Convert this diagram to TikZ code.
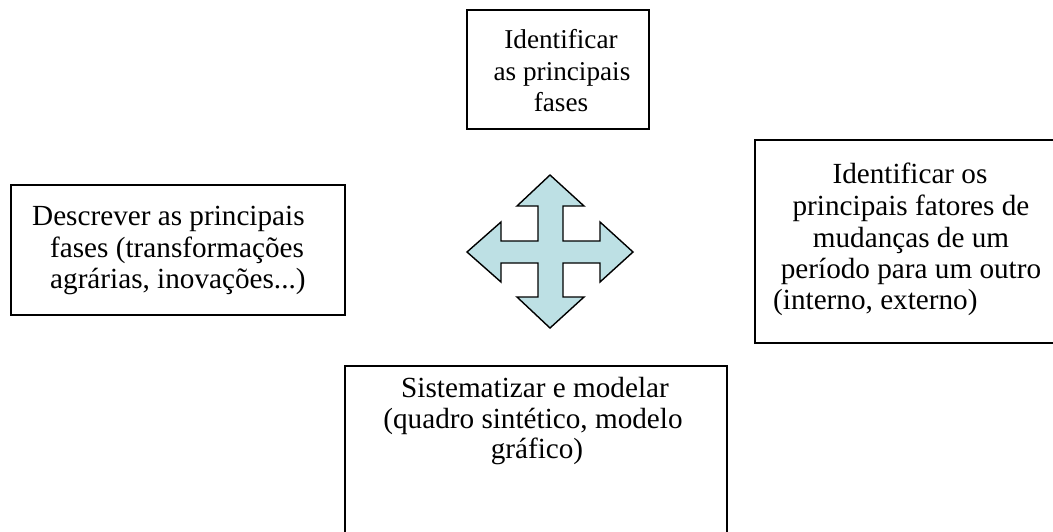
\documentclass[tikz,border=0pt]{standalone}
\usepackage{fontspec}
\setmainfont{Liberation Serif}
\definecolor{arrowfill}{RGB}{189,224,228}
\tikzset{
  box/.style={draw=black, line width=1.5pt, fill=none, inner sep=0pt},
  txt/.style={inner sep=0pt, font=\fontsize{29.2}{32}\selectfont, anchor=base},
  txts/.style={txt, font=\fontsize{27.2}{31}\selectfont},
  txtw/.style={txt, anchor=base west},
  quad/.style={draw=black, line width=1.4pt, fill=arrowfill, line join=miter}
}
\begin{document}
\begin{tikzpicture}[x=1pt,y=-1pt]
\clip (0,0) rectangle (1053,531);
\fill[white] (0,0) rectangle (1053,531);
% boxes
\draw[box] (467,10) rectangle (649,129) node[coordinate] (topbox) {};
\draw[box] (11,185) rectangle (345,315) node[coordinate] (leftbox) {};
\draw[box] (755,140) rectangle (1068,343) node[coordinate] (rightbox) {};
\draw[box] (345,366) rectangle (727,560) node[coordinate] (bottombox) {};
% top text
\node[txts] (ta) at (561,48) {Identificar};
\node[txts] (tb) at (562,80) {as principais};
\node[txts] (tc) at (561,111) {fases};
% left text
\node[txtw] (la) at (32,225) {Descrever as principais};
\node[txtw] (lb) at (50,257) {fases (transformações};
\node[txtw] (lc) at (50,288) {agrárias, inovações...)};
% right text
\node[txt] (ra) at (910,183) {Identificar os};
\node[txt] (rb) at (911,215) {principais fatores de};
\node[txt] (rc) at (911,247) {mudanças de um};
\node[txt] (rd) at (911,278) {período para um outro};
\node[txtw] (re) at (773,309) {(interno, externo)};
% bottom text
\node[txt] (ba) at (535,397) {Sistematizar e modelar};
\node[txt] (bb) at (533,428) {(quadro sintético, modelo};
\node[txt] (bc) at (537,458) {gráfico)};
% quad arrow
\draw[quad] (550,175) -- (584,206) -- (563,206) -- (563,241) -- (600,241) -- (600,222)
  -- (633,252) -- (600,282) -- (600,263) -- (563,263) -- (563,297) -- (584,297)
  -- (550,328) -- (517,297) -- (538,297) -- (538,263) -- (501,263) -- (501,282)
  -- (467,252) -- (501,222) -- (501,241) -- (538,241) -- (538,206) -- (517,206) -- cycle;
\end{tikzpicture}
\end{document}
